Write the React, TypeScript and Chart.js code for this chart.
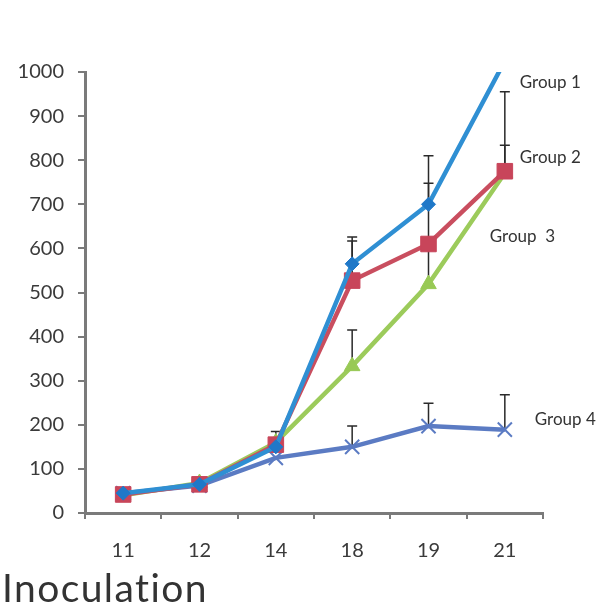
import React, { useEffect, useRef } from "react";
import { Chart, registerables } from "chart.js";

Chart.register(...registerables);

const categories = ["11", "12", "14", "18", "19", "21"];
const group1 = [45, 65, 150, 565, 700, 1025];
const group2 = [42, 65, 155, 527, 610, 775];
const group3 = [40, 68, 160, 333, 519, 771];
const group4 = [45, 62, 125, 150, 197, 189];

const err1 = [null, null, null, 626, 810, null];
const err2 = [null, null, 185, 617, 748, 955];
const err3 = [null, null, null, 415, 610, 834];
const err4 = [null, null, null, 197, 249, 268];

const seriesNames = ["Group 1", "Group 2", "Group  3", "Group 4"];
const labelValues = [977, 805, 628, 211];
const labelOffsets = [15, 15, -15, 30];

const FONT = "Lato, 'DejaVu Sans', sans-serif";

const errorBarPlugin = {
  id: "errorBars",
  beforeDatasetsDraw(chart: any) {
    const ctx = chart.ctx;
    const x = chart.scales.x;
    const y = chart.scales.y;
    const all = [
      [group1, err1],
      [group2, err2],
      [group3, err3],
      [group4, err4],
    ];
    ctx.save();
    ctx.strokeStyle = "#2a2a2a";
    ctx.lineWidth = 1.5;
    all.forEach(([vals, errs]: any) => {
      errs.forEach((e: number | null, i: number) => {
        if (e == null) return;
        const px = x.getPixelForValue(i);
        const y0 = y.getPixelForValue(Math.min(vals[i], 1000));
        const y1 = y.getPixelForValue(e);
        ctx.beginPath();
        ctx.moveTo(px, y0);
        ctx.lineTo(px, y1);
        ctx.moveTo(px - 5, y1);
        ctx.lineTo(px + 5, y1);
        ctx.stroke();
      });
    });
    ctx.restore();
  },
  afterDraw(chart: any) {
    const ctx = chart.ctx;
    const x = chart.scales.x;
    const y = chart.scales.y;
    ctx.save();
    ctx.fillStyle = "#333333";
    ctx.font = `17px ${FONT}`;
    ctx.textBaseline = "middle";
    seriesNames.forEach((name, k) => {
      const px = x.getPixelForValue(categories.length - 1) + labelOffsets[k];
      const py = y.getPixelForValue(labelValues[k]);
      ctx.textAlign = "left";
      ctx.fillText(name, px, py);
    });
    ctx.restore();
  },
};

export default function App() {
  const ref = useRef<HTMLCanvasElement>(null);
  useEffect(() => {
    if (!ref.current) return;
    const chart = new Chart(ref.current, {
      type: "line",
      data: {
        labels: categories,
        datasets: [
          {
            label: "Group 1",
            data: group1,
            borderColor: "#2f8fd3",
            backgroundColor: "#1f78c8",
            borderWidth: 4.5,
            pointStyle: "rectRot",
            pointRadius: 7,
            pointBorderWidth: 1,
            pointBorderColor: "#1f78c8",
          },
          {
            label: "Group 2",
            data: group2,
            borderColor: "#c94e5f",
            backgroundColor: "#c8455a",
            borderWidth: 4.5,
            pointStyle: "rect",
            pointRadius: 11,
            pointBorderWidth: 1,
            pointBorderColor: "#c8455a",
          },
          {
            label: "Group 3",
            data: group3,
            borderColor: "#9ccb5b",
            backgroundColor: "#98c955",
            borderWidth: 4.5,
            pointStyle: "triangle",
            pointRadius: 9,
            pointBorderWidth: 1,
            pointBorderColor: "#98c955",
          },
          {
            label: "Group 4",
            data: group4,
            borderColor: "#5b7bc3",
            backgroundColor: "#5b7bc3",
            borderWidth: 4.5,
            pointStyle: "crossRot",
            pointRadius: 10,
            pointBorderWidth: 2,
            pointBorderColor: "#5b7bc3",
          },
        ],
      },
      options: {
        animation: false,
        responsive: false,
        maintainAspectRatio: false,
        layout: { padding: { top: 72, right: 61, left: 0, bottom: 0 } },
        plugins: {
          legend: { display: false },
          tooltip: { enabled: false },
          title: { display: false },
        },
        scales: {
          x: {
            type: "category",
            offset: true,
            grid: {
              offset: true,
              drawOnChartArea: false,
              drawTicks: true,
              tickLength: 6,
              color: "#7a7a7a",
              lineWidth: 2,
            },
            border: { display: true, color: "#7a7a7a", width: 3 },
            ticks: {
              color: "#3a3a3a",
              font: { family: FONT, size: 20 },
              padding: 20,
              maxRotation: 0,
            },
            afterFit(scale: any) {
              scale.height = 95;
            },
          },
          y: {
            min: 0,
            max: 1000,
            grid: {
              drawOnChartArea: false,
              drawTicks: true,
              tickLength: 7,
              color: "#7a7a7a",
              lineWidth: 2,
            },
            border: { display: true, color: "#7a7a7a", width: 3 },
            ticks: {
              stepSize: 100,
              color: "#3a3a3a",
              font: { family: FONT, size: 20 },
              padding: 14,
              callback: (v: any) => String(v),
            },
            afterFit(scale: any) {
              scale.width = 85;
            },
          },
        },
      } as any,
      plugins: [errorBarPlugin],
    });
    return () => chart.destroy();
  }, []);

  return (
    <div style={{ position: "absolute", left: 0, top: 0, width: 604, height: 608, background: "#fff" }}>
      <canvas ref={ref} width={604} height={608} style={{ position: "absolute", left: 0, top: 0 }} />
      <div
        style={{
          position: "absolute",
          left: 2,
          top: 568,
          fontFamily: FONT,
          fontSize: 39,
          lineHeight: "39px",
          letterSpacing: "1.4px",
          fontVariantLigatures: "none",
          color: "#333333",
          whiteSpace: "nowrap",
        }}
      >
        Inoculation
      </div>
    </div>
  );
}
